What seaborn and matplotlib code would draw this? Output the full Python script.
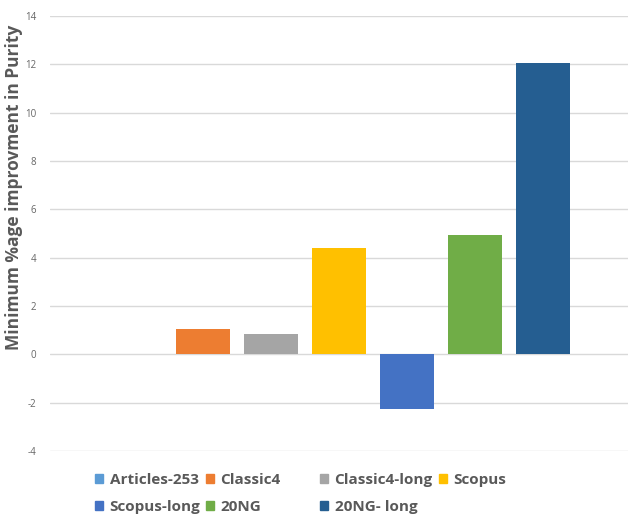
import matplotlib
matplotlib.use('Agg')
import matplotlib.pyplot as plt
import matplotlib.patches as mpatches
import seaborn as sns

datasets = ['Articles-253', 'Classic4', 'Classic4-long', 'Scopus', 'Scopus-long', '20NG', '20NG- long']
purity_gain = [0.0, 1.04, 0.84, 4.39, -2.25, 4.93, 12.06]
colors = ['#5B9BD5', '#ED7D31', '#A5A5A5', '#FFC000', '#4472C4', '#70AD47', '#255E91']
yticks = [-4, -2, 0, 2, 4, 6, 8, 10, 12, 14]

sns.set_style('white')
plt.rcParams['font.family'] = ['Open Sans', 'DejaVu Sans']

fig = plt.figure(figsize=(6.28, 5.15), dpi=100)
ax = fig.add_axes([0.08, 0.124, 0.92, 0.845])

sns.barplot(x=datasets, y=purity_gain, hue=datasets, palette=colors, saturation=1,
            width=0.79, legend=False, linewidth=0, ax=ax, zorder=3)

ax.set_ylim(-4, 14)
ax.set_xlim(-1.25, 7.25)
ax.set_yticks(yticks)
ax.set_yticklabels([str(t) for t in yticks], fontsize=7, color='#666666')
ax.tick_params(axis='y', length=0, pad=10)
ax.set_xticks([])
ax.grid(axis='y', color='#D9D9D9', linewidth=1, zorder=0)
for s in ax.spines.values():
    s.set_visible(False)

ax.set_ylabel('Minimum %age improvment in Purity', fontsize=12.5, fontweight='bold', color='#595959')
ax.yaxis.set_label_coords(-0.048, 0.605)

# legend laid out as 4 columns like the excel one
handles = [mpatches.Patch(color=c, label=d) for c, d in zip(colors, datasets)]
cols = [[0, 4], [1, 5], [2, 6], [3]]
col_x = [95, 206, 320, 439]
for idx, x in zip(cols, col_x):
    fig.legend(handles=[handles[i] for i in idx], loc='upper left',
               bbox_to_anchor=(x / 628, 1 - 473 / 515), frameon=False,
               borderpad=0, borderaxespad=0, handlelength=0.5, handleheight=0.5,
               handletextpad=0.45, labelspacing=0.84,
               prop={'size': 11, 'weight': 'bold'}, labelcolor='#595959')

fig.savefig('out.png', dpi=100)
